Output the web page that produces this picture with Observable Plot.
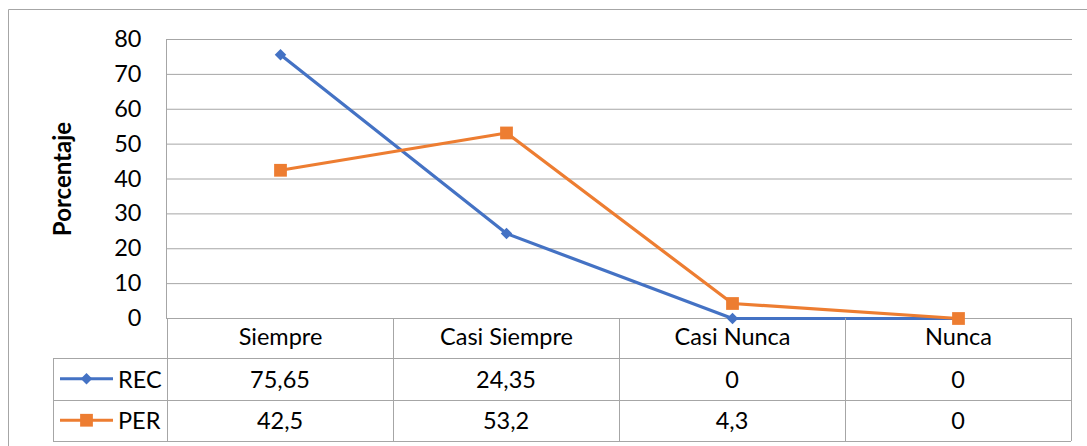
<!DOCTYPE html>
<html>
<head>
<meta charset="utf-8">
<script src="https://cdn.jsdelivr.net/npm/d3@7"></script>
<script src="https://cdn.jsdelivr.net/npm/@observablehq/plot@0.6"></script>
<style>
  html, body { margin: 0; padding: 0; background: #fff; }
  #chart { width: 1087px; height: 446px; overflow: hidden; }
</style>
</head>
<body>
<div id="chart"></div>
<script>
const categories = ["Siempre", "Casi Siempre", "Casi Nunca", "Nunca"];
const seriesNames = ["REC", "PER"];
const recValues = [75.65, 24.35, 0, 0];
const perValues = [42.5, 53.2, 4.3, 0];
const yTicks = [0, 10, 20, 30, 40, 50, 60, 70, 80];
const yLabel = "Porcentaje";

const colors = { REC: "#4472C4", PER: "#ED7D31" };
const symbols = { REC: "diamond2", PER: "square" };
const d3Symbols = { REC: d3.symbolDiamond2, PER: d3.symbolSquare };
const symbolR = { REC: 5.2, PER: 7.2 };

const rows = [];
categories.forEach((c, i) => {
  rows.push({ series: "REC", cat: c, value: recValues[i] });
  rows.push({ series: "PER", cat: c, value: perValues[i] });
});
const fmt = v => String(v).replace(".", ",");

const gridColor = "#a6a6a6";
const font = "Lato, 'Noto Sans', sans-serif";
const fs = 23.5;

const marks = [
  Plot.gridY(yTicks, { stroke: gridColor, strokeOpacity: 1, strokeWidth: 1 }),
  Plot.frame({ anchor: "left", stroke: gridColor, strokeOpacity: 1 }),
  Plot.axisY(yTicks, { tickSize: 0, tickPadding: 25, fontSize: fs, fill: "#000", label: null }),
  Plot.axisX({ tickSize: 0, tickPadding: 10, fontSize: fs, fill: "#000", label: null }),
  Plot.text([yLabel], { frameAnchor: "left", textAnchor: "middle", rotate: -90, dx: -103, fontWeight: "bold", fontSize: 24, fill: "#000" })
];
seriesNames.forEach(s => {
  const d = rows.filter(r => r.series === s);
  marks.push(Plot.line(d, { x: "cat", y: "value", stroke: colors[s], strokeWidth: 3.2, strokeLinejoin: "round" }));
  marks.push(Plot.dot(d, { x: "cat", y: "value", symbol: symbols[s], fill: colors[s], stroke: "none", r: symbolR[s] }));
});

const plot = Plot.plot({
  width: 1087,
  height: 446,
  marginTop: 39,
  marginBottom: 128,
  marginLeft: 166,
  marginRight: 15,
  style: { fontFamily: font, fontSize: fs + "px", color: "#000", background: "#fff", overflow: "visible" },
  x: { type: "point", domain: categories, padding: 0.5, axis: null },
  y: { domain: [0, 80], axis: null },
  marks
});

document.getElementById("chart").appendChild(plot);

// Data table below the plot, laid out from the library's x and y scales
const svg = d3.select(plot);
const xs = plot.scale("x");
const ys = plot.scale("y");
const step = xs.apply(categories[1]) - xs.apply(categories[0]);
const left = xs.apply(categories[0]) - step / 2;
const right = xs.apply(categories[categories.length - 1]) + step / 2;
const top0 = ys.apply(0);
const headerH = 40, rowH = 41.5;
const keyLeft = 53;
const rowTops = [top0 + headerH, top0 + headerH + rowH];
const bottom = top0 + headerH + 2 * rowH;

const g = svg.append("g").attr("class", "datatable");
const crisp = v => Math.round(v) + 0.5;

// outer chart border (top and left visible)
g.append("line").attr("x1", 8.5).attr("x2", 1087).attr("y1", 9.5).attr("y2", 9.5).attr("stroke", gridColor);
g.append("line").attr("x1", 8.5).attr("x2", 8.5).attr("y1", 9.5).attr("y2", 446).attr("stroke", gridColor);

// horizontal table lines
[rowTops[0], rowTops[1], bottom].forEach(y => {
  g.append("line").attr("x1", keyLeft).attr("x2", right).attr("y1", crisp(y)).attr("y2", crisp(y)).attr("stroke", gridColor);
});
// vertical table lines
const vx = [left].concat(categories.map(c => xs.apply(c) + step / 2));
vx.forEach(x => {
  g.append("line").attr("x1", crisp(x)).attr("x2", crisp(x)).attr("y1", top0).attr("y2", bottom).attr("stroke", gridColor);
});
g.append("line").attr("x1", crisp(keyLeft)).attr("x2", crisp(keyLeft)).attr("y1", rowTops[0]).attr("y2", bottom).attr("stroke", gridColor);

// value cells
const seriesValues = { REC: recValues, PER: perValues };
seriesNames.forEach((s, si) => {
  const cy = rowTops[si] + rowH / 2;
  categories.forEach((c, i) => {
    g.append("text")
      .attr("x", xs.apply(c)).attr("y", cy)
      .attr("text-anchor", "middle").attr("dominant-baseline", "central")
      .attr("font-family", font).attr("font-size", fs).attr("fill", "#000")
      .text(fmt(seriesValues[s][i]));
  });
  // legend key
  g.append("line").attr("x1", 60).attr("x2", 113).attr("y1", cy).attr("y2", cy)
    .attr("stroke", colors[s]).attr("stroke-width", 3.2);
  const r = symbolR[s];
  g.append("path").attr("transform", `translate(86.5,${cy})`)
    .attr("d", d3.symbol(d3Symbols[s], r * r * Math.PI)())
    .attr("fill", colors[s]);
  g.append("text").attr("x", 118).attr("y", cy)
    .attr("text-anchor", "start").attr("dominant-baseline", "central")
    .attr("font-family", font).attr("font-size", fs).attr("fill", "#000")
    .text(s);
});
</script>
</body>
</html>
